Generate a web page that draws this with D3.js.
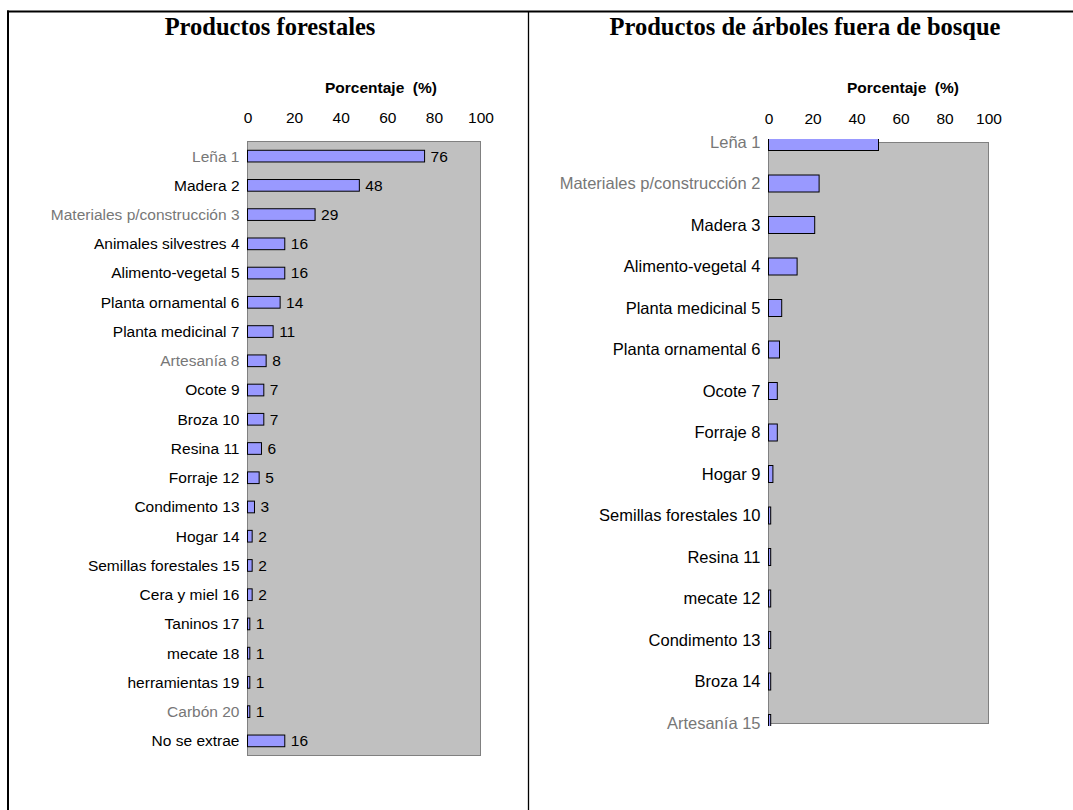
<!DOCTYPE html>
<html>
<head>
<meta charset="utf-8">
<script src="https://cdn.jsdelivr.net/npm/d3@7/dist/d3.min.js"></script>
<style>
  html, body { margin: 0; padding: 0; background: #fff; }
  svg { display: block; }
</style>
</head>
<body>
<svg id="chart" width="1073" height="810"></svg>
<script>
// ---- Data ----
const leftTitle = "Productos forestales";
const leftCategories = ["Leña 1", "Madera 2", "Materiales p/construcción 3", "Animales silvestres 4",
  "Alimento-vegetal 5", "Planta ornamental 6", "Planta medicinal 7", "Artesanía 8", "Ocote 9",
  "Broza 10", "Resina 11", "Forraje 12", "Condimento 13", "Hogar 14", "Semillas forestales 15",
  "Cera y miel 16", "Taninos 17", "mecate 18", "herramientas 19", "Carbón 20", "No se extrae"];
const leftValues = [76, 48, 29, 16, 16, 14, 11, 8, 7, 7, 6, 5, 3, 2, 2, 2, 1, 1, 1, 1, 16];

const rightTitle = "Productos de árboles fuera de bosque";
const rightCategories = ["Leña 1", "Materiales p/construcción 2", "Madera 3", "Alimento-vegetal 4",
  "Planta medicinal 5", "Planta ornamental 6", "Ocote 7", "Forraje 8", "Hogar 9",
  "Semillas forestales 10", "Resina 11", "mecate 12", "Condimento 13", "Broza 14", "Artesanía 15"];
const rightValues = [50, 23, 21, 13, 6, 5, 4, 4, 2, 1, 1, 1, 1, 1, 1];

const xTicks = [0, 20, 40, 60, 80, 100];
const axisTitle = "Porcentaje\u00A0\u00A0(%)";
const fadedLabels = ["Leña 1", "Materiales p/construcción 3", "Materiales p/construcción 2", "Artesanía 8", "Artesanía 15", "Carbón 20"];

// ---- Drawing ----
const svg = d3.select("#chart");
const sans = "'Liberation Sans', Arial, sans-serif";
const serif = "'Liberation Serif', 'Times New Roman', serif";

// frame
svg.append("line").attr("x1", 7).attr("x2", 1073).attr("y1", 11.5).attr("y2", 11.5)
  .attr("stroke", "#000").attr("stroke-width", 2);
svg.append("line").attr("x1", 8).attr("x2", 8).attr("y1", 10.5).attr("y2", 810)
  .attr("stroke", "#000").attr("stroke-width", 2);
svg.append("line").attr("x1", 528.5).attr("x2", 528.5).attr("y1", 11).attr("y2", 810)
  .attr("stroke", "#000").attr("stroke-width", 1.3);

// titles
svg.append("text").attr("x", 270).attr("y", 35).attr("text-anchor", "middle")
  .attr("font-family", serif).attr("font-weight", "bold").attr("font-size", 24.5).text(leftTitle);
svg.append("text").attr("x", 805).attr("y", 35).attr("text-anchor", "middle")
  .attr("font-family", serif).attr("font-weight", "bold").attr("font-size", 24.5).text(rightTitle);

function drawPanel(opts) {
  const g = svg.append("g");
  const x = d3.scaleLinear().domain([0, 100]).range([opts.x0, opts.x1]);
  let y, bh;
  if (opts.band) {
    y = d3.scaleBand().domain(opts.cats).range([opts.y0, opts.y1]).paddingInner(0.6).paddingOuter(0.3);
    bh = y.bandwidth();
  } else {
    y = d3.scalePoint().domain(opts.cats).range([opts.yc0, opts.yc1]);
    bh = opts.barH;
  }
  const yc = c => opts.band ? y(c) + bh / 2 : y(c);

  // plot area
  g.append("rect").attr("x", opts.x0).attr("y", opts.y0)
    .attr("width", opts.x1 - opts.x0).attr("height", opts.y1 - opts.y0)
    .attr("fill", "#c0c0c0").attr("stroke", "#808080").attr("stroke-width", 1);

  // axis title
  g.append("text").attr("x", opts.titleX).attr("y", 93).attr("text-anchor", "middle")
    .attr("font-family", sans).attr("font-weight", "bold").attr("font-size", 15.5)
    .text(axisTitle);

  // top axis tick labels
  const ax = g.append("g").attr("transform", `translate(0,${opts.y0 - 18.5})`)
    .call(d3.axisTop(x).tickValues(xTicks).tickSize(0).tickPadding(0));
  ax.select(".domain").remove();
  ax.selectAll("text").attr("font-family", sans).attr("font-size", 15.5).attr("fill", "#000");

  // category labels
  const cg = g.append("g");
  cg.selectAll("text").data(opts.cats).join("text")
    .attr("x", opts.x0 - opts.labelPad).attr("y", c => yc(c)).attr("dy", "0.35em")
    .attr("text-anchor", "end").attr("font-family", sans).attr("font-size", opts.labelSize)
    .attr("fill", c => fadedLabels.includes(c) ? "#777" : "#000")
    .text(c => c);

  // bars
  const clipId = "clip" + opts.id;
  svg.append("clipPath").attr("id", clipId).append("rect")
    .attr("x", opts.x0 - 2).attr("y", opts.clipY0).attr("width", opts.x1 - opts.x0 + 4)
    .attr("height", opts.clipY1 - opts.clipY0);
  const data = opts.cats.map((c, i) => ({ c, v: opts.vals[i] }));
  g.append("g").attr("clip-path", `url(#${clipId})`)
    .selectAll("rect").data(data).join("rect")
    .attr("x", x(0)).attr("y", d => yc(d.c) - bh / 2)
    .attr("width", d => x(d.v) - x(0)).attr("height", bh)
    .attr("fill", "#9999ff").attr("stroke", "#000").attr("stroke-width", 1);

  if (opts.showValues) {
    g.append("g").selectAll("text").data(data).join("text")
      .attr("x", d => x(d.v) + 6).attr("y", d => yc(d.c)).attr("dy", "0.35em")
      .attr("font-family", sans).attr("font-size", 15.5).attr("fill", "#000")
      .text(d => d.v);
  }
}

drawPanel({
  id: "L", cats: leftCategories, vals: leftValues, band: true,
  x0: 247.5, x1: 480.5, y0: 141.5, y1: 755.5, clipY0: 141, clipY1: 756,
  titleX: 381, labelPad: 8, labelSize: 15.5, showValues: true
});

drawPanel({
  id: "R", cats: rightCategories, vals: rightValues, band: false,
  x0: 768.5, x1: 988.5, y0: 142.5, y1: 723.5, yc0: 142, yc1: 723, barH: 17,
  clipY0: 139, clipY1: 726, titleX: 903, labelPad: 8, labelSize: 16.5, showValues: false
});
</script>
</body>
</html>
